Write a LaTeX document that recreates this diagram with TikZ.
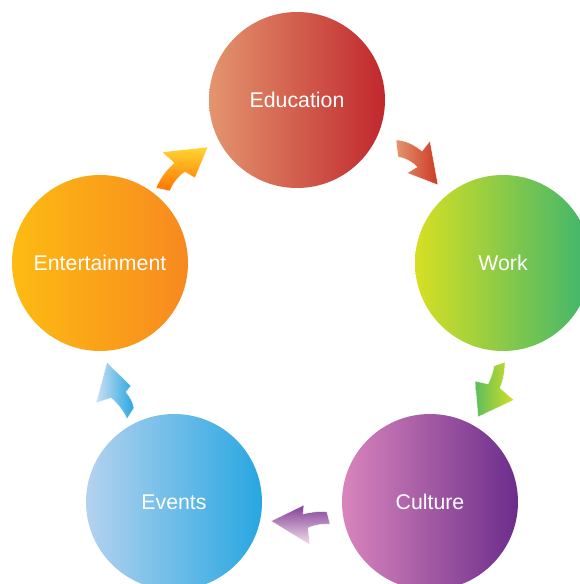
\documentclass[tikz,border=0pt]{standalone}
\usepackage{fontspec}
\setmainfont{Liberation Sans}
\begin{document}
\begin{tikzpicture}[x=1pt,y=-1pt,
  bubble/.style={circle, minimum size=176pt, inner sep=0pt, text=white, font=\fontsize{21.3}{25}\selectfont},
  arr/.style={draw=white, line width=0.4pt}]
\useasboundingbox (0,0) rectangle (580,584);
\clip (0,0) rectangle (580,584);
\definecolor{eduL}{HTML}{E3956E}\definecolor{eduR}{HTML}{C1272D}
\definecolor{workL}{HTML}{D7DF23}\definecolor{workR}{HTML}{3DB56D}
\definecolor{culL}{HTML}{D985BC}\definecolor{culR}{HTML}{6B2D8B}
\definecolor{evL}{HTML}{B4D2EF}\definecolor{evR}{HTML}{27A7E1}
\definecolor{entL}{HTML}{FDBB13}\definecolor{entR}{HTML}{F7891F}
\node[bubble, left color=eduL, right color=eduR] (edu) at (297,100) {Education};
\node[bubble, left color=workL, right color=workR] (work) at (503,263) {Work};
\node[bubble, left color=culL, right color=culR] (cul) at (430,502) {Culture};
\node[bubble, left color=evL, right color=evR] (ev) at (174,502) {Events};
\node[bubble, left color=entL, right color=entR] (ent) at (100,263) {Entertainment};
% arrow Entertainment -> Education
\shade[arr, top color=yellow!60!orange!80, bottom color=orange!90!red]
  (208,147) -- (162,152) -- (174,163) .. controls (166,170) and (160,178) .. (156,188)
  -- (170,191) .. controls (173,183) and (179,176) .. (185,172) -- (195,178) -- cycle;
% arrow Education -> Work
\shade[arr, left color=eduL, right color=eduR!80!orange]
  (396,140) .. controls (405,140) and (415,145) .. (422,151) -- (430,141) -- (438,185)
  -- (407,173) -- (417,167) .. controls (411,161) and (405,158) .. (398,157) -- cycle;
% arrow Work -> Culture
\shade[arr, left color=workR!80!workL, right color=workL]
  (494,366) -- (505,362) .. controls (505,372) and (503,381) .. (500,388) -- (514,400)
  -- (478,417) -- (475,381) -- (488,384) .. controls (491,378) and (493,372) .. (494,366) -- cycle;
% arrow Culture -> Events
\shade[arr, top color=culR!80!culL, bottom color=culL!25]
  (271,521) -- (304,505) -- (303,514) .. controls (311,512) and (320,511) .. (327,512)
  -- (330,524) .. controls (322,524) and (314,525) .. (308,528) -- (310,545) -- cycle;
% arrow Events -> Entertainment
\shade[arr, left color=evL!70, right color=evR]
  (107,362) .. controls (116,372) and (124,378) .. (131,386) -- (126,392)
  .. controls (130,397) and (133,402) .. (134,408) -- (127,419)
  .. controls (123,410) and (117,403) .. (111,398) -- (96,403) -- cycle;
\end{tikzpicture}
\end{document}
